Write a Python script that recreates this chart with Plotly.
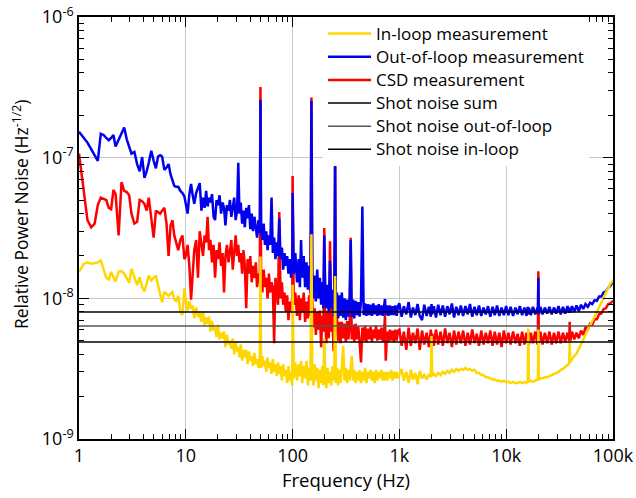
import plotly.graph_objects as go

# ---------------- data (values in units of 1e-9 Hz^-1/2) ----------------
freq_a = [1.0, 1.1, 1.2, 1.3, 1.4, 1.5, 1.6, 1.7, 1.8, 1.9,
          2.0, 2.1, 2.2, 2.35, 2.5, 2.65, 2.8, 2.95, 3.1, 3.3,
          3.5, 3.7, 3.9, 4.1, 4.3, 4.5, 4.75, 5.0, 5.25, 5.5,
          5.75, 6.0, 6.3, 6.6, 6.9, 7.2, 7.5, 7.8, 8.1, 8.5,
          8.9, 9.3, 9.7]
blue_a = [153, 140, 128, 115, 104, 95, 148, 145, 138, 133,
          138, 145, 120, 135, 150, 164, 135, 118, 107, 110,
          90, 80, 101, 72, 80, 92, 112, 95, 84, 102,
          104, 102, 82, 85, 90, 76, 70, 63, 62, 62,
          58, 56, 53]
red_a = [107, 62, 36, 32, 34, 46, 52, 51, 50, 44,
         43, 59, 55, 28, 67, 58, 57, 54, 40, 34,
         35, 50, 49, 47, 42, 52, 38, 27, 42, 41,
         40, 42, 44, 34, 20, 33, 36, 28, 25, 22,
         26, 28, 19]
yellow_a = [15.4, 17.5, 18.0, 17.6, 17.8, 18.0, 18.6, 16.0, 14.0, 13.6,
            15.4, 14.2, 13.2, 15.5, 15.6, 15.0, 14.0, 12.9, 16.2, 14.0,
            12.4, 14.1, 12.0, 11.2, 13.0, 14.5, 13.4, 14.0, 14.5, 12.4,
            10.5, 9.4, 11.1, 10.8, 10.4, 10.8, 11.1, 9.8, 9.6, 10.4,
            8.0, 7.6, 11.8]

freq_b = [10.0, 10.4, 10.8, 11.2, 11.6, 12.0, 12.5, 13.0, 13.5, 14.0,
          14.5, 15.0, 15.5, 16.0, 16.5, 17.0, 17.6, 18.2, 18.8, 19.4,
          20.0, 20.7, 21.4, 22.1, 22.8, 23.5, 24.3, 25.1, 25.9, 26.7,
          27.5, 28.4, 29.3, 30.2, 31.0, 31.8, 32.7, 33.7, 34.7, 35.7,
          36.8, 37.9, 39.0, 40.2, 41.4, 42.6, 43.9, 45.2, 46.5, 47.9,
          49.3, 50.0, 50.7, 52.1, 53.6, 55.1, 56.7, 58.3, 60.0, 61.7,
          63.5, 65.3, 67.2, 69.1, 71.1, 73.1, 75.0, 77.2, 79.4, 81.7,
          84.0, 86.4, 88.9, 91.4, 94.0, 96.7, 99.3]
blue_b = [48, 40, 55, 65, 54, 47, 56, 62, 66, 42,
          52, 44, 58, 45, 52, 48, 55, 38, 36, 50,
          46, 54, 40, 48, 44, 33, 46, 42, 50, 38,
          44, 52, 36, 42, 92, 40, 48, 34, 42, 32,
          44, 37, 46, 31, 40, 30, 38, 33, 27, 36,
          29, 258, 32, 26, 34, 24, 30, 22, 28, 24,
          52, 21, 27, 19, 25, 20, 37, 19, 23, 16,
          21, 17, 20, 15, 19, 14, 17]
red_b = [20, 24, 17, 9.8, 16, 22, 26, 14, 30, 24,
         20, 28, 25, 38, 22, 26, 18, 24, 14, 22,
         19, 25, 17, 21, 11, 20, 24, 18, 22, 26,
         16, 22, 28, 20, 24, 18, 21, 15, 22, 17,
         8.5, 19, 15, 20, 13, 17, 14, 18, 12, 15,
         13, 318, 14, 11, 16, 12, 14, 10, 15, 11,
         13, 12, 4.8, 14, 11, 9, 41, 10, 13, 9,
         11, 8, 10.5, 7, 9.5, 8, 10]
yellow_b = [9.8, 8.2, 9.5, 8.4, 8.9, 7.2, 8.6, 7.4, 7.9, 6.8,
            8.1, 6.4, 7.3, 6.6, 7.4, 5.8, 6.9, 5.9, 6.2, 5.3,
            6.5, 5.1, 5.7, 5.2, 5.8, 4.5, 5.5, 4.7, 5.0, 4.4,
            5.2, 4.0, 4.9, 4.2, 4.5, 3.8, 4.7, 3.6, 4.3, 3.8,
            4.3, 3.4, 4.2, 3.6, 3.9, 3.3, 4.1, 3.4, 3.7, 3.2,
            3.9, 19.8, 3.2, 3.9, 3.3, 3.6, 3.0, 3.8, 3.2, 3.5,
            2.9, 3.7, 3.0, 3.4, 2.8, 3.5, 2.9, 3.3, 2.6, 3.4,
            2.8, 3.1, 2.5, 3.3, 2.6, 3.0, 2.4]

freq_c = [100, 102.5, 106, 110, 114, 117, 120, 123, 127, 131,
          135, 139, 143, 147, 150, 153, 157, 161, 165, 170,
          175, 180, 185, 190, 194, 198, 202, 207, 212, 218,
          224, 230, 236, 242, 246, 250, 254, 260, 267, 274,
          281, 289, 298, 306, 315, 324, 333, 342, 350, 358,
          368, 378, 389, 400, 412, 424, 437, 450, 463, 477,
          491, 506, 521, 537, 553, 570, 587, 604, 622, 641,
          660, 680, 700, 721, 733, 745, 767, 790, 814, 838,
          863, 889, 916, 943, 971]
blue_c = [56, 15, 21, 13, 19, 12, 26, 14, 20, 12,
          18, 11.5, 17, 11, 254, 15, 10, 14.5, 9.5, 16,
          10, 14, 9, 13, 8.5, 28, 12, 8.5, 12.5, 8,
          18.5, 8.5, 11.5, 7.5, 11, 96, 8, 11, 7.2, 10.5,
          7.5, 11, 7.3, 10, 7.0, 9.8, 7.4, 10.2, 26, 7.4,
          9.8, 7.2, 9.6, 7.6, 9.4, 7.4, 9.5, 45, 7.6, 9.2,
          7.5, 9.1, 7.6, 9.0, 7.5, 9.2, 7.7, 8.9, 7.5, 9.1,
          7.6, 8.9, 7.5, 9.0, 9.9, 7.6, 8.9, 7.5, 8.9, 7.6,
          8.8, 7.6, 8.9, 7.5, 8.8]
red_c = [74, 9, 11, 7.5, 10.5, 7, 10, 8, 11, 6.8,
         9.5, 7.2, 10.5, 7.5, 268, 9, 6.2, 8.5, 5.5, 8,
         6, 8.2, 4.5, 7.5, 5.8, 31.6, 7, 4.8, 8, 5.2,
         25.4, 5.8, 7.6, 4.2, 7, 104, 5.5, 7.2, 5, 6.8,
         4.8, 6.8, 5.2, 6.6, 4.9, 6.9, 5.1, 6.5, 27, 5.1,
         6.5, 4.9, 6.6, 5.1, 6.3, 4.9, 3.5, 6.2, 5.0, 6.4,
         4.9, 6.1, 5.1, 6.3, 4.9, 6.0, 5.2, 6.4, 5.0, 6.0,
         5.1, 6.2, 4.9, 6.0, 7.6, 3.6, 5.8, 4.9, 6.0, 5.0,
         5.9, 4.9, 6.0, 5.0, 5.9]
yellow_c = [12.5, 2.7, 3.5, 2.6, 3.4, 2.8, 3.6, 2.5, 3.3, 2.7,
            3.6, 2.4, 3.2, 2.6, 28.5, 3.0, 2.4, 3.4, 2.6, 3.2,
            2.3, 3.1, 2.5, 3.3, 2.4, 5.2, 2.8, 2.3, 3.2, 2.5,
            3.0, 2.4, 3.3, 2.6, 3.1, 14.4, 2.5, 3.2, 2.4, 3.1,
            2.5, 3.3, 4.6, 2.6, 3.2, 2.5, 3.1, 2.6, 3.2, 3.9,
            2.6, 3.1, 2.5, 3.0, 2.6, 3.1, 2.5, 3.0, 2.6, 3.2,
            2.5, 3.0, 2.7, 3.1, 2.6, 3.0, 2.5, 3.1, 2.6, 3.0,
            2.7, 3.1, 2.6, 3.0, 2.6, 3.0, 2.6, 3.0, 2.7, 3.1,
            2.6, 3.0, 2.7, 3.0, 2.7]

freq_d = [1000, 1050, 1100, 1160, 1220, 1280, 1340, 1410, 1480, 1550,
          1630, 1710, 1800, 1890, 1970, 2000, 2030, 2100, 2200, 2310,
          2430, 2550, 2680, 2810, 2950, 3100, 3250, 3410, 3580, 3760,
          3950, 4150, 4360, 4580, 4810, 5050, 5300, 5560, 5840, 6130,
          6440, 6760, 7100, 7450, 7820, 8210, 8620, 9050, 9500, 9980,
          10500, 11000, 11600, 12200, 12800, 13400, 14100, 14800, 15500, 15900,
          16100, 16300, 17000, 17800, 18700, 19600, 19800, 20000, 20200, 20900,
          21900, 23000, 24200, 25400, 26700, 28000, 29400, 30900, 32400, 34000,
          35700, 37500, 38900, 39300, 39700, 41300, 43400, 45500, 47800, 50200,
          52700, 55300, 58100, 61000, 64000, 67200, 70600, 74100, 77800, 81700,
          85800, 90100, 94600, 100000]
blue_d = [9.2, 7.4, 8.8, 7.7, 9.4, 7.3, 8.6, 7.6, 9.1, 7.5,
          7.0, 9.0, 7.5, 8.7, 7.4, 9.1, 7.7, 8.8, 7.3, 9.0,
          7.6, 8.9, 7.4, 8.8, 7.7, 9.2, 7.3, 8.7, 7.6, 8.9,
          7.5, 8.8, 7.7, 9.1, 7.4, 8.7, 7.6, 8.9, 7.5, 8.6,
          7.7, 8.8, 7.4, 8.7, 7.6, 8.9, 7.5, 8.6, 7.6, 8.8,
          7.6, 8.7, 7.5, 8.6, 7.7, 8.8, 7.6, 8.6, 7.5, 8.7,
          7.7, 8.6, 7.6, 8.7, 7.7, 8.6, 7.8, 14.0, 7.7, 8.7,
          7.7, 8.6, 7.8, 8.7, 7.7, 8.6, 7.8, 8.8, 7.7, 8.7,
          7.8, 8.8, 7.9, 8.6, 7.9, 8.8, 8.0, 8.9, 8.1, 9.0,
          8.4, 9.1, 8.7, 9.3, 9.1, 9.7, 9.6, 10.3, 10.3, 11.0,
          11.2, 11.9, 12.3, 13.1]
red_d = [6.0, 4.6, 5.8, 4.3, 6.2, 4.6, 5.7, 4.8, 6.1, 4.3,
         5.9, 4.7, 5.7, 4.5, 6.0, 4.8, 5.6, 4.6, 6.0, 4.7,
         5.8, 4.6, 6.1, 4.8, 5.7, 4.5, 5.9, 4.7, 5.8, 4.8,
         5.9, 4.6, 5.7, 4.7, 6.0, 4.8, 5.6, 4.6, 5.9, 4.7,
         5.7, 4.8, 5.9, 4.6, 5.8, 4.7, 5.7, 4.5, 5.9, 4.8,
         5.7, 4.7, 5.8, 4.8, 5.6, 4.6, 5.8, 4.7, 5.7, 4.8,
         5.8, 4.7, 5.7, 4.8, 5.8, 4.7, 5.7, 15.6, 4.8, 5.8,
         4.7, 5.7, 4.8, 5.8, 4.7, 5.7, 4.8, 5.8, 4.8, 5.7,
         4.9, 5.7, 5.0, 6.8, 4.9, 5.8, 5.1, 5.7, 5.2, 5.9,
         5.5, 6.2, 6.0, 6.6, 6.5, 7.1, 7.1, 7.7, 7.8, 8.4,
         8.5, 9.1, 9.2, 9.6]
yellow_d = [2.9, 3.15, 2.6, 3.0, 2.5, 3.1, 2.65, 2.95, 2.45, 3.05,
            2.7, 2.85, 2.65, 2.9, 2.75, 5.4, 2.8, 2.9, 2.8, 2.95,
            2.85, 3.0, 2.9, 3.05, 2.95, 3.1, 3.0, 3.15, 3.05, 3.15,
            3.1, 3.2, 3.1, 3.15, 3.05, 3.1, 2.95, 2.95, 2.85, 2.85,
            2.75, 2.75, 2.7, 2.65, 2.65, 2.6, 2.6, 2.55, 2.6, 2.55,
            2.55, 2.5, 2.55, 2.5, 2.5, 2.55, 2.5, 2.55, 2.5, 2.55,
            6.1, 2.55, 2.6, 2.55, 2.6, 2.65, 2.6, 6.0, 2.65, 2.7,
            2.7, 2.75, 2.75, 2.8, 2.85, 2.9, 2.95, 3.0, 3.1, 3.15,
            3.25, 3.35, 3.45, 5.0, 3.5, 3.7, 3.85, 4.05, 4.35, 4.7,
            5.0, 5.5, 6.0, 6.4, 6.9, 7.4, 8.0, 8.6, 9.3, 10.1,
            11.0, 12.0, 12.7, 13.4]

shot_noise = [8.0, 6.35, 4.9]   # sum, out-of-loop, in-loop
shot_names = ["Shot noise sum", "Shot noise out-of-loop", "Shot noise in-loop"]
shot_colors = ["#000000", "#555555", "#000000"]

x_tick_vals = [1, 10, 100, 1000, 10000, 100000]
x_tick_text = ["1", "10", "100", "1k", "10k", "100k"]
y_tick_vals = [1e-9, 1e-8, 1e-7, 1e-6]
y_tick_text = ["10<sup>-9</sup>", "10<sup>-8</sup>", "10<sup>-7</sup>", "10<sup>-6</sup>"]

# ---------------- assemble ----------------
SCALE = 1e-9
freq = freq_a + freq_b + freq_c + freq_d
blue = [v * SCALE for v in blue_a + blue_b + blue_c + blue_d]
red = [v * SCALE for v in red_a + red_b + red_c + red_d]
yellow = [v * SCALE for v in yellow_a + yellow_b + yellow_c + yellow_d]

FONT = "Open Sans, Noto Sans, sans-serif"
LEG_SPAN = '<span style="font-size:17px">{}</span>'

fig = go.Figure()
fig.add_trace(go.Scatter(x=freq, y=red, mode="lines", name=LEG_SPAN.format("CSD measurement"),
                         line=dict(color="#FF0000", width=2.5), legendrank=3))
fig.add_trace(go.Scatter(x=freq, y=blue, mode="lines", name=LEG_SPAN.format("Out-of-loop measurement"),
                         line=dict(color="#0000EE", width=2.5), legendrank=2))
fig.add_trace(go.Scatter(x=freq, y=yellow, mode="lines", name=LEG_SPAN.format("In-loop measurement"),
                         line=dict(color="#FFD700", width=2.5), legendrank=1))
for i, (v, nm, c) in enumerate(zip(shot_noise, shot_names, shot_colors)):
    fig.add_trace(go.Scatter(x=[freq[0], freq[-1]], y=[v * SCALE, v * SCALE],
                             mode="lines", name=LEG_SPAN.format(nm), line=dict(color=c, width=1.5),
                             legendrank=4 + i))

x_minor = [m * 10 ** d for d in range(0, 5) for m in range(2, 10)]
y_minor = [m * 10.0 ** d for d in range(-9, -6) for m in range(2, 10)]

axis_common = dict(
    showline=True, linecolor="black", linewidth=1.5, mirror="ticks",
    ticks="inside", ticklen=10, tickwidth=1.2, tickcolor="black",
    showgrid=True, gridcolor="#c8c8c8", gridwidth=1, zeroline=False,
    automargin=False,
    tickfont=dict(family=FONT, size=18, color="black"),
)

fig.update_xaxes(type="log", range=[0, 5], tickmode="array",
                 tickvals=x_tick_vals, ticktext=x_tick_text,
                 minor=dict(tickmode="array", tickvals=x_minor, ticks="inside",
                            ticklen=5, tickwidth=1, tickcolor="black", showgrid=False),
                 title=dict(text="Frequency (Hz)", font=dict(family=FONT, size=18.5, color="black"),
                            standoff=6),
                 **axis_common)
fig.update_yaxes(type="log", range=[-9, -6], tickmode="array",
                 tickvals=y_tick_vals, ticktext=y_tick_text,
                 minor=dict(tickmode="array", tickvals=y_minor, ticks="inside",
                            ticklen=5, tickwidth=1, tickcolor="black", showgrid=False),
                 **axis_common)

fig.update_layout(
    width=636, height=498,
    margin=dict(l=79, r=23, t=17, b=59),
    paper_bgcolor="white", plot_bgcolor="white",
    font=dict(family=FONT, size=18, color="black"),
    showlegend=True,
    legend=dict(x=0.457, y=1.0, xanchor="left", yanchor="top",
                bgcolor="white", borderwidth=0, tracegroupgap=0, itemwidth=43,
                font=dict(family=FONT, size=15.5, color="black")),
    annotations=[dict(text="Relative Power Noise (Hz<sup>-1/2</sup>)",
                      xref="paper", yref="paper", x=-0.1105, y=0.533,
                      xanchor="center", yanchor="middle", textangle=-90,
                      showarrow=False, font=dict(family=FONT, size=17.5, color="black"))],
)

fig.write_html("out.html", config={"displayModeBar": False},
               post_script="document.body.style.margin='0';document.body.style.overflow='hidden';")
